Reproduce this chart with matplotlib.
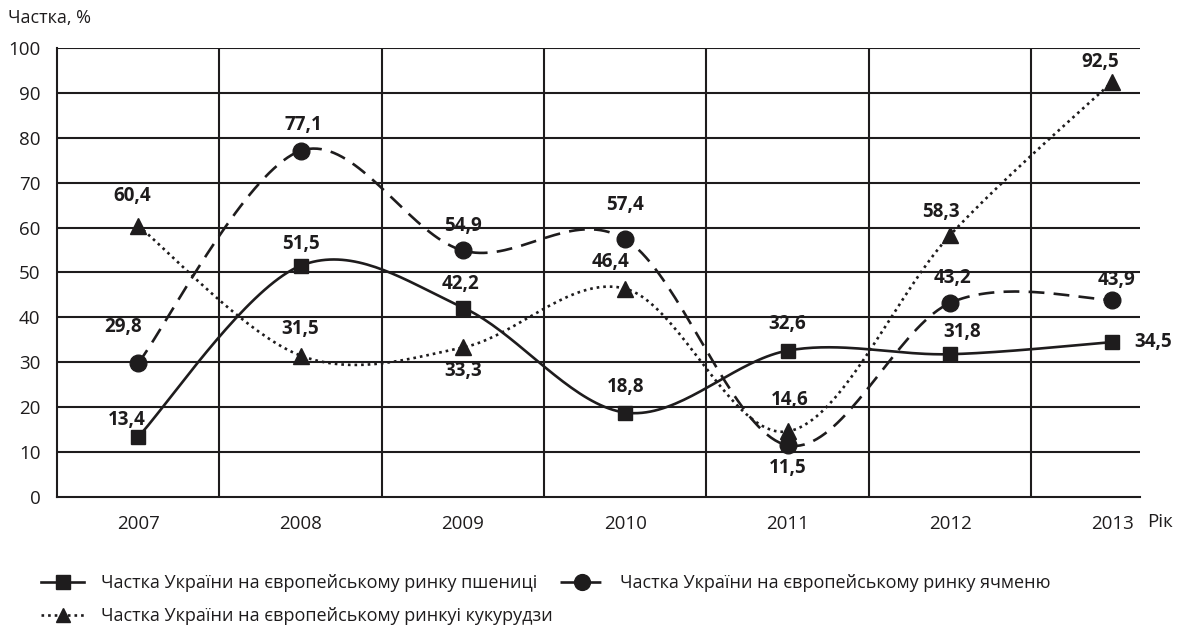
import numpy as np
import matplotlib
matplotlib.use('Agg')
import matplotlib.pyplot as plt

plt.rcParams['font.family'] = ['Open Sans', 'DejaVu Sans']

years = ['2007', '2008', '2009', '2010', '2011', '2012', '2013']
wheat = [13.4, 51.5, 42.2, 18.8, 32.6, 31.8, 34.5]
barley = [29.8, 77.1, 54.9, 57.4, 11.5, 43.2, 43.9]
corn = [60.4, 31.5, 33.3, 46.4, 14.6, 58.3, 92.5]

wheat_name = 'Частка України на європейському ринку пшениці'
barley_name = 'Частка України на європейському ринку ячменю'
corn_name = 'Частка України на європейському ринкуі кукурудзи'

# label offsets in pixels (dx, dy up)
wheat_off = [(-11, 17), (0, 22), (-2, 24), (0, 26), (0, 27), (12, 22), (41, 0)]
barley_off = [(-15, 36), (3, 26), (0, 24), (0, 34), (0, -23), (2, 25), (4, 20)]
corn_off = [(-6, 30), (0, 27), (0, -24), (-15, 27), (2, 31), (-9, 23), (-12, 20)]

INK = '#1e1c1d'


def smooth(xs, ys, n=40):
    # catmull-rom style bezier, like spreadsheet "smoothed line"
    p = np.column_stack([xs, ys]).astype(float)
    p = np.vstack([p[0], p, p[-1]])
    out = []
    for i in range(1, len(p) - 2):
        p0, p1, p2, p3 = p[i - 1], p[i], p[i + 1], p[i + 2]
        c1 = p1 + (p2 - p0) / 6
        c2 = p2 - (p3 - p1) / 6
        t = np.linspace(0, 1, n)[:, None]
        seg = ((1 - t) ** 3 * p1 + 3 * (1 - t) ** 2 * t * c1
               + 3 * (1 - t) * t ** 2 * c2 + t ** 3 * p2)
        out.append(seg if i == 1 else seg[1:])
    out = np.vstack(out)
    return out[:, 0], out[:, 1]


fig = plt.figure(figsize=(11.82, 6.26), dpi=100)
ax = fig.add_axes([57 / 1182, 129 / 626, (1140 - 57) / 1182, 449 / 626])

x = np.arange(len(years))

# grid
for v in range(10, 101, 10):
    ax.axhline(v, color=INK, lw=1.5, zorder=1)
for b in x[:-1] + 0.5:
    ax.axvline(b, color=INK, lw=1.5, zorder=1)

series = [
    (wheat, '-', 's', 10, wheat_off, wheat_name, None),
    (barley, '--', 'o', 12, barley_off, barley_name, (6, 3.5)),
    (corn, ':', '^', 11, corn_off, corn_name, (1, 1.5)),
]
handles = []
for vals, ls, mk, ms, offs, name, dash in series:
    sx, sy = smooth(x, vals)
    line, = ax.plot(sx, sy, ls, color=INK, lw=1.9, zorder=3)
    if dash is not None:
        line.set_dashes(dash)
    ax.plot(x, vals, mk, color=INK, ms=ms, ls='none', zorder=4)
    h, = ax.plot([], [], ls, marker=mk, color=INK, lw=1.9, ms=ms * 0.95,
                 label=name)
    if dash is not None:
        h.set_dashes(dash)
    handles.append(h)
    for xi, v, (dx, dy) in zip(x, vals, offs):
        ax.annotate(f'{v:.1f}'.replace('.', ','), (xi, v),
                    xytext=(dx * 0.72, dy * 0.72), textcoords='offset points',
                    ha='center', va='center', fontsize=13.5,
                    fontweight='bold', color=INK, zorder=5)

ax.set_xlim(-0.5, 6.17)
ax.set_ylim(0, 100)
ax.set_yticks(range(0, 101, 10))
ax.set_xticks(x)
ax.set_xticklabels(years)
ax.tick_params(length=0, labelsize=13.5, colors=INK)
ax.tick_params(axis='y', pad=12)
ax.tick_params(axis='x', pad=13)
for s in ['top', 'right']:
    ax.spines[s].set_visible(False)
for s in ['left', 'bottom']:
    ax.spines[s].set_color(INK)
    ax.spines[s].set_linewidth(1.5)

fig.text(8 / 1182, 1 - 18 / 626, 'Частка, %', fontsize=13, color=INK,
         ha='left', va='center')
fig.text(1147 / 1182, 1 - 522 / 626, 'Рік', fontsize=13.5, color=INK,
         ha='left', va='center')

fig.legend([handles[0], handles[2], handles[1]],
           [wheat_name, corn_name, barley_name],
           loc='upper left', bbox_to_anchor=(32 / 1182, 1 - 565 / 626),
           ncol=2, frameon=False, fontsize=13, handlelength=2.4,
           handletextpad=0.9, columnspacing=0.45, labelspacing=0.85,
           numpoints=1, borderpad=0, labelcolor=INK)

fig.savefig('out.png', dpi=100)
